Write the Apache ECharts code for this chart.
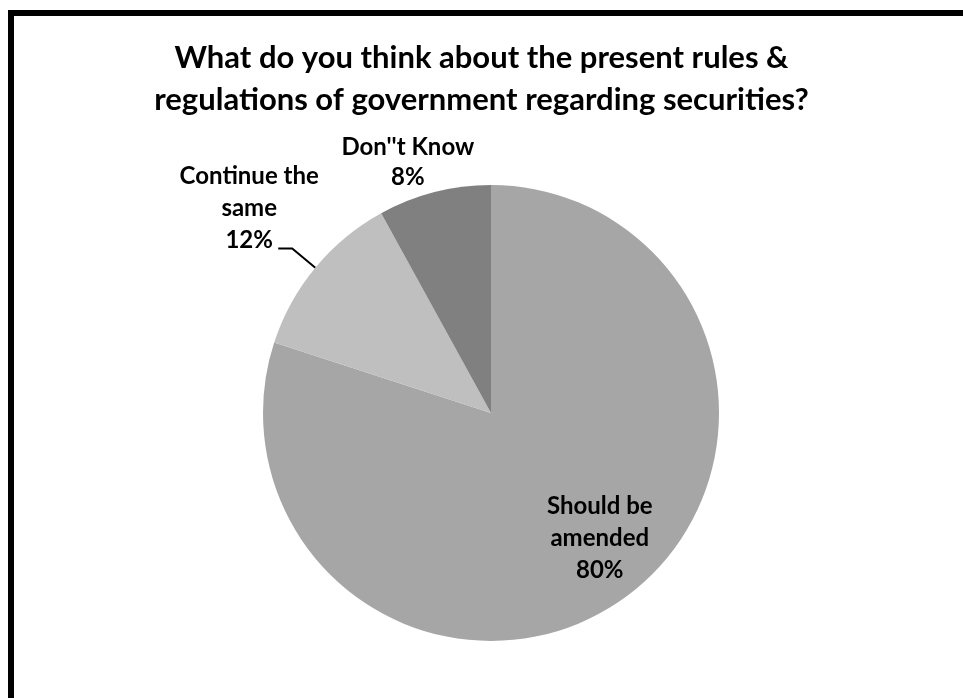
<!DOCTYPE html>
<html>
<head>
<meta charset="utf-8">
<title>Rules & regulations survey</title>
<script src="https://cdn.jsdelivr.net/npm/echarts@6/dist/echarts.min.js"></script>
<style>
  html, body { margin: 0; padding: 0; background: #ffffff; }
  #chart { width: 963px; height: 698px; }
</style>
</head>
<body>
<div id="chart"></div>
<script>
// Survey answers (share of respondents, %)
const categories = ['Should be\namended', 'Continue the\nsame', "Don''t Know"];
const values = [80, 12, 8];
const sliceColors = ['#a6a6a6', '#bfbfbf', '#808080'];
const chartTitle = 'What do you think about the present rules &\nregulations of government regarding securities?';

const FONT = 'Lato, "Open Sans", sans-serif';

const chart = echarts.init(document.getElementById('chart'), null, { renderer: 'canvas' });

// label nudges, relative to where the pie layout puts each label
const labelShift = [
  { dx: 40, dy: 31, align: 'center' },
  { dx: -24, dy: -40, align: 'center', keepLine: true },
  { dx: 0, dy: -1, align: 'center' }
];

chart.setOption({
  backgroundColor: '#ffffff',
  animation: false,
  title: {
    text: chartTitle,
    left: 'center',
    top: 32,
    textStyle: {
      fontFamily: FONT,
      fontSize: 31,
      fontWeight: 'bold',
      lineHeight: 42,
      color: '#000000'
    }
  },
  graphic: [
    { type: 'rect', left: 8, top: 10, shape: { width: 6, height: 700 }, style: { fill: '#000' } },
    { type: 'rect', left: 8, top: 10, shape: { width: 960, height: 6 }, style: { fill: '#000' } }
  ],
  series: [{
    type: 'pie',
    center: [491, 413],
    radius: 228,
    startAngle: 90,
    clockwise: true,
    silent: true,
    itemStyle: { borderWidth: 0 },
    label: {
      fontFamily: FONT,
      fontSize: 24,
      fontWeight: 'bold',
      lineHeight: 32,
      color: '#000000',
      formatter: p => p.name + '\n' + p.value + '%'
    },
    labelLine: {
      lineStyle: { color: '#000000', width: 2 },
      length: 30,
      length2: 14,
      smooth: false
    },
    labelLayout: function (p) {
      const s = labelShift[p.dataIndex];
      const out = { dx: s.dx, dy: s.dy, align: s.align };
      if (s.keepLine && p.labelLinePoints) out.labelLinePoints = p.labelLinePoints;
      return out;
    },
    data: values.map((v, i) => {
      const item = { name: categories[i], value: v, itemStyle: { color: sliceColors[i] } };
      if (i === 0) {
        item.label = { position: 'inside' };
      } else if (i === 2) {
        item.labelLine = { show: false };
        item.label = { lineHeight: 30 };
      }
      return item;
    })
  }]
});
</script>
</body>
</html>
